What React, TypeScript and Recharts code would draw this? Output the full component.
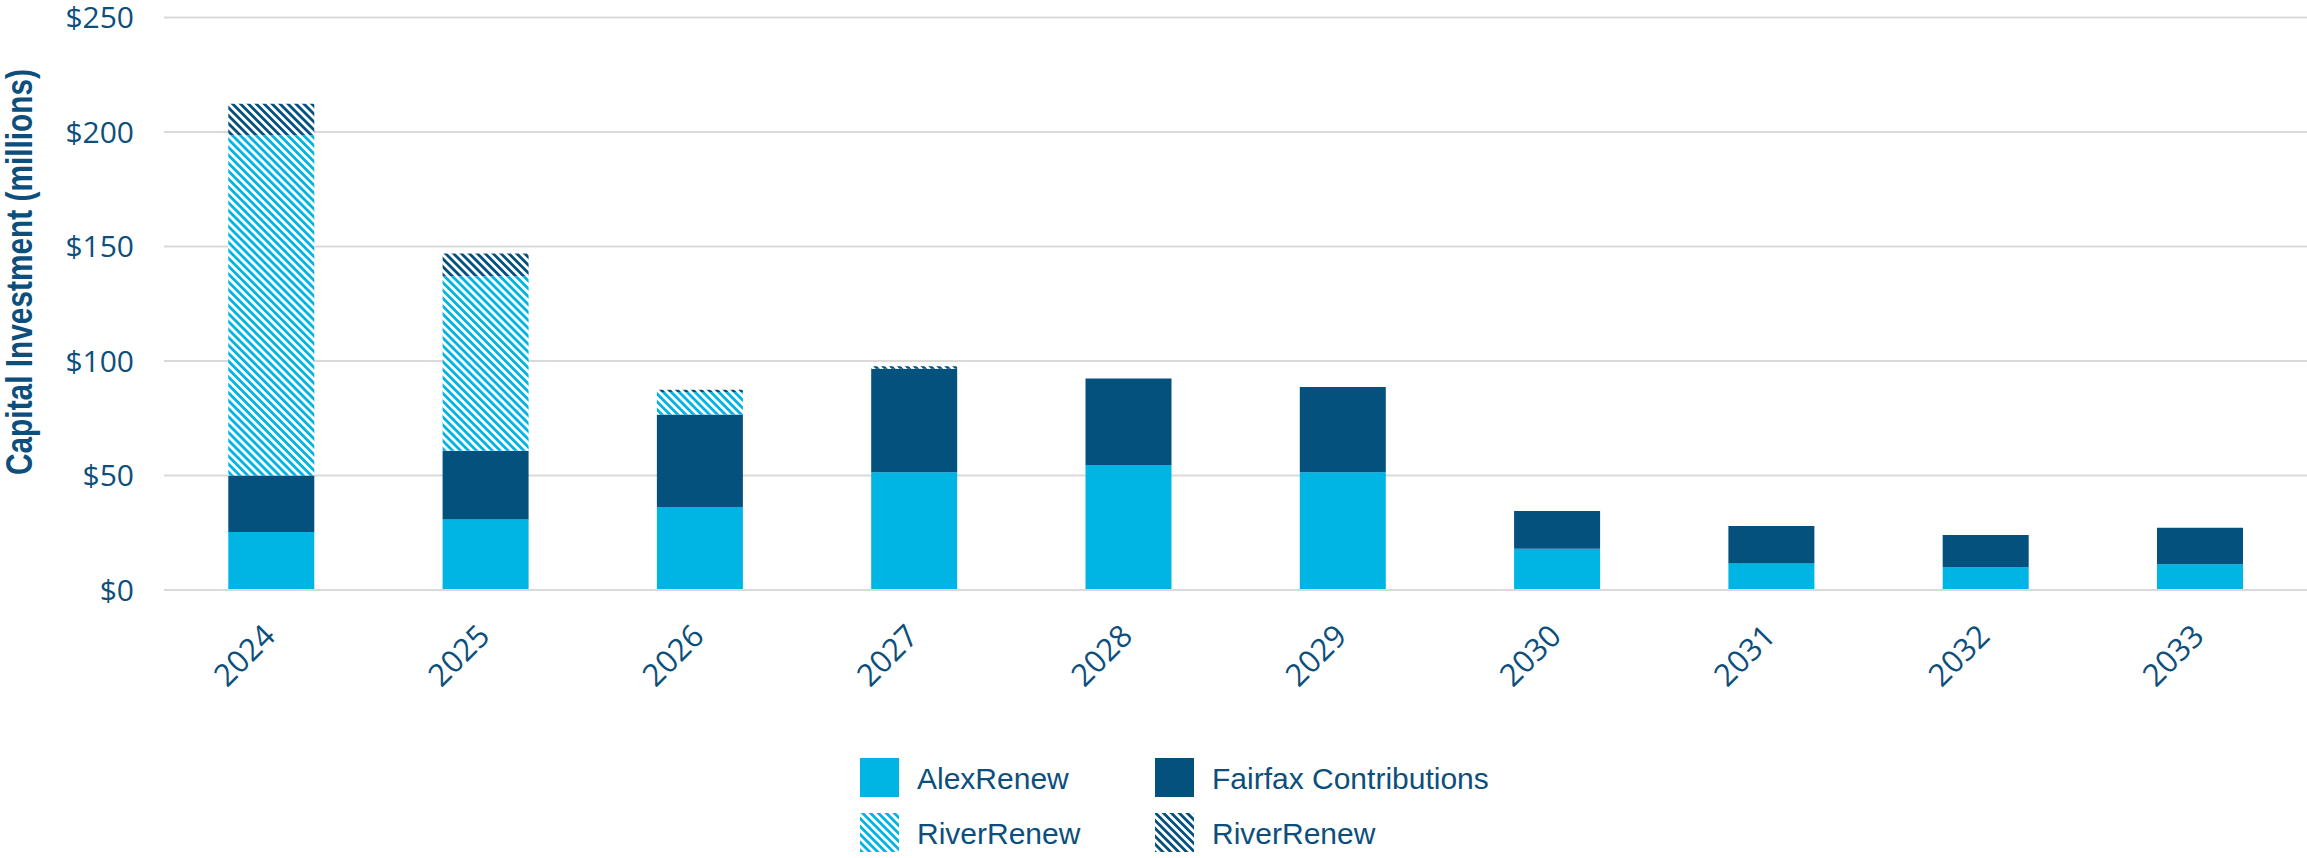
import { BarChart, Bar, XAxis, YAxis, CartesianGrid } from "recharts";

const years = ["2024", "2025", "2026", "2027", "2028", "2029", "2030", "2031", "2032", "2033"];
const alexRenew = [25.3, 30.8, 36.3, 51.4, 54.6, 51.4, 18.0, 11.6, 10.0, 11.2];
const fairfax = [24.7, 30.0, 40.4, 45.2, 37.8, 37.3, 16.5, 16.4, 14.0, 16.0];
const riverRenewLight = [148.6, 76.2, 9.8, 0, 0, 0, 0, 0, 0, 0];
const riverRenewDark = [13.8, 10.0, 1.0, 1.1, 0, 0, 0, 0, 0, 0];
const yTicks = [0, 50, 100, 150, 200, 250];

const CYAN = "#00b4e3";
const NAVY = "#04517e";
const TEXT = "#0d4f7c";
const GRID = "#d9d9d9";
const TICK_FONT = "'Open Sans', sans-serif";

const data = years.map((year, i) => ({
  year,
  alex: alexRenew[i],
  fairfax: fairfax[i],
  riverLight: riverRenewLight[i],
  riverDark: riverRenewDark[i],
}));

function Hatch({ id, color }: { id: string; color: string }) {
  return (
    <pattern id={id} patternUnits="userSpaceOnUse" width={5.6} height={5.6} patternTransform="rotate(-45)">
      <rect width={5.6} height={5.6} fill="#ffffff" />
      <rect width={2.8} height={5.6} fill={color} />
    </pattern>
  );
}

function YearTick(props: any) {
  const { x, y, payload } = props;
  const tx = x + 6;
  const ty = y + 40;
  return (
    <text
      x={tx}
      y={ty}
      transform={`rotate(-45, ${tx}, ${ty})`}
      textAnchor="end"
      fill={TEXT}
      fontSize={31}
      fontFamily={TICK_FONT}
    >
      {payload.value}
    </text>
  );
}

function AxisTitle() {
  return (
    <text
      x={0}
      y={0}
      transform="translate(32, 272) rotate(-90)"
      textAnchor="middle"
      fill={TEXT}
      fontSize={36}
      fontWeight="bold"
      fontFamily="'Liberation Sans', Arial, sans-serif"
      textLength={406}
      lengthAdjust="spacingAndGlyphs"
    >
      Capital Investment (millions)
    </text>
  );
}

const legendItems = [
  { label: "AlexRenew", fill: CYAN, x: 860, y: 758 },
  { label: "Fairfax Contributions", fill: NAVY, x: 1155, y: 758 },
  { label: "RiverRenew", fill: "url(#legLight)", x: 860, y: 813 },
  { label: "RiverRenew", fill: "url(#legDark)", x: 1155, y: 813 },
];

function ChartLegend() {
  return (
    <svg width={2307} height={858} style={{ position: "absolute", left: 0, top: 0, pointerEvents: "none" }}>
      <defs>
        <Hatch id="legLight" color={CYAN} />
        <Hatch id="legDark" color={NAVY} />
      </defs>
      {legendItems.map((it, i) => (
        <g key={i}>
          <rect x={it.x} y={it.y} width={39} height={39} fill={it.fill} />
          <text
            x={it.x + 57}
            y={it.y + 31}
            fill={TEXT}
            fontSize={30}
            fontFamily="'Liberation Sans', Arial, sans-serif"
          >
            {it.label}
          </text>
        </g>
      ))}
    </svg>
  );
}

export default function App() {
  return (
    <div style={{ position: "relative", width: 2307, height: 858, background: "#fff" }}>
      <style>{`body{margin:0}`}</style>
      <BarChart
        width={2307}
        height={858}
        data={data}
        margin={{ top: 17.6, right: 0, left: 0, bottom: 0 }}
        barCategoryGap="30%"
      >
        <defs>
          <Hatch id="hatchLight" color={CYAN} />
          <Hatch id="hatchDark" color={NAVY} />
        </defs>
        <CartesianGrid vertical={false} stroke={GRID} strokeWidth={2} />
        <XAxis
          dataKey="year"
          interval={0}
          height={268}
          axisLine={{ stroke: GRID, strokeWidth: 2 }}
          tickLine={false}
          tick={<YearTick />}
        />
        <YAxis
          domain={[0, 250]}
          ticks={yTicks}
          width={164}
          axisLine={false}
          tickLine={false}
          tickSize={0}
          tickMargin={30}
          tickFormatter={(v: number) => `$${v}`}
          tick={{ fill: TEXT, fontSize: 30, fontFamily: TICK_FONT }}
          label={{ content: () => <AxisTitle /> }}
        />
        <Bar dataKey="alex" stackId="a" fill={CYAN} isAnimationActive={false} />
        <Bar dataKey="fairfax" stackId="a" fill={NAVY} isAnimationActive={false} />
        <Bar dataKey="riverLight" stackId="a" fill="url(#hatchLight)" isAnimationActive={false} />
        <Bar dataKey="riverDark" stackId="a" fill="url(#hatchDark)" isAnimationActive={false} />
      </BarChart>
      <ChartLegend />
    </div>
  );
}
